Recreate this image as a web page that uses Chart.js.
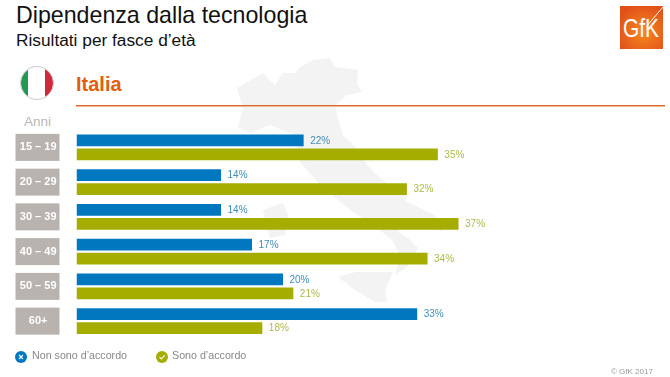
<!DOCTYPE html>
<html>
<head>
<meta charset="utf-8">
<title>Dipendenza dalla tecnologia</title>
<script src="https://cdn.jsdelivr.net/npm/chart.js@4/dist/chart.umd.min.js"></script>
<style>
html,body{margin:0;padding:0;background:#fff;overflow:hidden}
body{position:relative;width:670px;height:377px;font-family:"Liberation Sans",Arial,sans-serif}
.abs{position:absolute;white-space:nowrap;line-height:1}
#map,#flag,#logo{position:absolute;left:0;top:0}
#wrap{position:absolute;left:0;top:0;width:670px;height:377px}
#rule{position:absolute;left:76px;top:105px;width:589px;height:1px;background:#d5682a;box-shadow:0 1px 0 #f0b98f}
.mark{position:absolute;top:349px;width:12px;height:12px}
</style>
</head>
<body>
<!-- sagoma dell'Italia sullo sfondo -->
<svg id="map" width="670" height="377" fill="#f3f3f4">
  <path d="M237 88L263 73L275 85L283 73L295 73L300 67L313 60L330 58L335 67L358 70L357 83L362 92L347 95L335 105L337 115L343 135L360 152L367 165L377 175L392 187L408 192L405 201L435 215L443 232L430 226L410 218L398 232L408 238L418 248L407 267L395 275L400 256L392 240L375 226L353 212L323 188L300 162L295 135L270 125L250 133L238 127L243 108Z"/>
  <path d="M263 210L283 203L288 215L285 235L270 238L266 224Z"/>
  <path d="M338 277L355 272L393 272L385 290L387 302L375 302L355 290Z"/>
</svg>
<div class="abs" style="left:16px;top:4px;font-size:23.2px;color:#111">Dipendenza dalla tecnologia</div>
<div class="abs" style="left:16px;top:32px;font-size:17.3px;color:#111">Risultati per fasce d’età</div>
<svg id="flag" width="670" height="110">
  <clipPath id="c"><circle cx="37" cy="83" r="16"/></clipPath>
  <g clip-path="url(#c)">
    <rect x="20" y="66" width="8" height="34" fill="#1f9a50"/>
    <rect x="28" y="66" width="17" height="34" fill="#fff"/>
    <rect x="45" y="66" width="9" height="34" fill="#cf2a3c"/>
  </g>
  <circle cx="37" cy="83" r="16.5" fill="none" stroke="#ccc" stroke-width="1"/>
</svg>
<div class="abs" style="left:76px;top:74px;font-size:20px;font-weight:bold;color:#e0600f">Italia</div>
<div id="rule"></div>
<div class="abs" style="left:24px;top:115px;font-size:13.5px;color:#b8b8b8">Anni</div>
<svg id="logo" width="670" height="60">
  <defs><radialGradient id="g" cx="55%" cy="60%" r="65%"><stop offset="0" stop-color="#f58a1f"/><stop offset="1" stop-color="#e2501a"/></radialGradient></defs>
  <rect x="620" y="6" width="43" height="43" fill="url(#g)"/>
  <text x="623" y="37" font-size="26" fill="#fff" font-family="Liberation Sans" textLength="36" lengthAdjust="spacingAndGlyphs">GfK</text>
  <path d="M646 27L663 7" stroke="#fff" stroke-width="1" fill="none"/>
</svg>
<div id="wrap"><canvas id="myBarChart" width="670" height="377"></canvas></div>
<div class="mark" style="left:15px"><svg width="12" height="12"><circle cx="6" cy="6" r="6" fill="#0077bf"/><path d="M4 4L8 8M8 4L4 8" stroke="#fff" stroke-width="1.1"/></svg></div>
<div class="abs" id="leg0" style="left:32px;top:350px;font-size:10.7px;color:#888"></div>
<div class="mark" style="left:156px"><svg width="12" height="12"><circle cx="6" cy="6" r="6" fill="#a4ad00"/><path d="M3.5 6L5.3 8L8.7 4.3" stroke="#fff" stroke-width="1.1" fill="none"/></svg></div>
<div class="abs" id="leg1" style="left:172px;top:350px;font-size:10.7px;color:#888"></div>
<div class="abs" style="left:611px;top:368px;font-size:8px;color:#999">© GfK 2017</div>
<script>
var fasce=['15 – 19','20 – 29','30 – 39','40 – 49','50 – 59','60+'];
var non_accordo=[22,14,14,17,20,33];
var accordo=[35,32,37,34,21,18];
var nomi=['Non sono d’accordo','Sono d’accordo'];
var colori=['#0077bf','#a4ad00'];
var colori_testo=['#3f8db9','#b1b84a'];

document.getElementById('leg0').textContent=nomi[0];
document.getElementById('leg1').textContent=nomi[1];

// riquadri grigi dietro le fasce d'età
var boxPlugin={
  id:'boxes',
  beforeDraw:function(chart){
    var c=chart.ctx,y=chart.scales.y;
    c.save();
    c.fillStyle='#b9b3b0';
    fasce.forEach(function(f,i){
      c.fillRect(15.5,y.getPixelForTick(i)-13.5,44,27);
    });
    c.restore();
  }
};

// percentuali a destra delle barre
var valuePlugin={
  id:'values',
  afterDatasetsDraw:function(chart){
    var c=chart.ctx;
    c.save();
    c.font='10px "Liberation Sans"';
    c.textBaseline='middle';
    chart.data.datasets.forEach(function(ds,d){
      c.fillStyle=colori_testo[d];
      chart.getDatasetMeta(d).data.forEach(function(bar,i){
        c.fillText(ds.data[i]+'%',bar.x+6.5,bar.y+0.5);
      });
    });
    c.restore();
  }
};

var chardata={
  labels:fasce,
  datasets:[
    {label:nomi[0],data:non_accordo,backgroundColor:colori[0],barPercentage:.857,categoryPercentage:.805},
    {label:nomi[1],data:accordo,backgroundColor:colori[1],barPercentage:.857,categoryPercentage:.805}
  ]
};

new Chart(document.getElementById('myBarChart'),{
  type:'bar',
  data:chardata,
  plugins:[boxPlugin,valuePlugin],
  options:{
    indexAxis:'y',
    responsive:false,
    animation:false,
    layout:{padding:{left:0,right:5,top:130,bottom:38.5}},
    plugins:{legend:{display:false},tooltip:{enabled:false}},
    scales:{
      x:{display:false,min:0,max:57},
      y:{
        afterFit:function(s){s.width=76.5},
        grid:{display:false,drawTicks:false},
        border:{display:false},
        ticks:{
          crossAlign:'center',
          padding:20,
          color:'#fff',
          font:{family:'"Liberation Sans"',size:11,weight:'bold'}
        }
      }
    }
  }
});
</script>
</body>
</html>
